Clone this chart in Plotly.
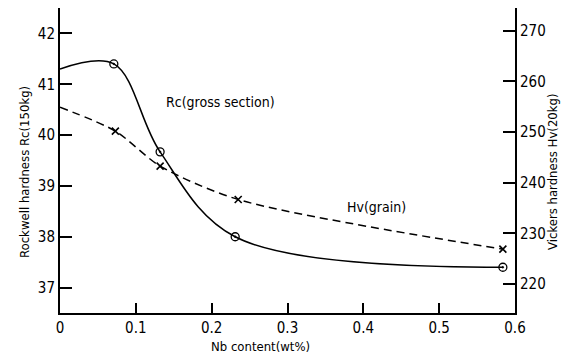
import plotly.graph_objects as go

# Data
nb_rc = [0.071, 0.132, 0.231, 0.584]
rc_vals = [41.4, 39.67, 38.0, 37.4]
rc_start = 41.3          # curve value at Nb = 0

nb_hv = [0.073, 0.132, 0.235, 0.584]
hv_vals = [250.2, 243.3, 236.7, 226.9]
hv_start = 254.9         # curve value at Nb = 0

x_ticks = [0, 0.1, 0.2, 0.3, 0.4, 0.5, 0.6]
x_ticktext = ["0", "0.1", "0.2", "0.3", "0.4", "0.5", "0.6"]
rc_ticks = [37, 38, 39, 40, 41, 42]
hv_ticks = [220, 230, 240, 250, 260, 270]

FONT = "DejaVu Sans Condensed, Liberation Sans Narrow, Arial Narrow, sans-serif"

L, R, T, B = 60, 50, 8, 44
PW, PH = 565 - L - R, 357 - T - B

fig = go.Figure()

# Rc curve (solid)
fig.add_trace(go.Scatter(
    x=[0] + nb_rc, y=[rc_start] + rc_vals, mode="lines",
    line=dict(color="black", width=1.5, shape="spline", smoothing=1.0),
    yaxis="y", showlegend=False, hoverinfo="skip"))
fig.add_trace(go.Scatter(
    x=nb_rc, y=rc_vals, mode="markers",
    marker=dict(symbol="circle-open-dot", size=8, color="black", line=dict(width=1.3)),
    yaxis="y", showlegend=False))

# Hv curve (dashed)
fig.add_trace(go.Scatter(
    x=[0] + nb_hv, y=[hv_start] + hv_vals, mode="lines",
    line=dict(color="black", width=1.5, dash="8px,5px", shape="spline", smoothing=0.8),
    yaxis="y2", showlegend=False, hoverinfo="skip"))
fig.add_trace(go.Scatter(
    x=nb_hv, y=hv_vals, mode="markers",
    marker=dict(symbol="x-thin", size=7, color="black", line=dict(width=1.6, color="black")),
    yaxis="y2", showlegend=False))

fig.add_annotation(x=0.211, y=40.65, xref="x", yref="y", text="Rc(gross section)",
                   showarrow=False, font=dict(family=FONT, size=14, color="black"))
fig.add_annotation(x=0.417, y=38.59, xref="x", yref="y", text="Hv(grain)",
                   showarrow=False, font=dict(family=FONT, size=14, color="black"))

# Axis titles placed as annotations for precise placement
ty = (357 - B - 172) / PH
fig.add_annotation(x=(24 - L) / PW, y=ty, xref="paper", yref="paper",
                   text="Rockwell hardness Rc(150kg)",
                   textangle=-90, showarrow=False, xanchor="center", yanchor="middle",
                   font=dict(family=FONT, size=13, color="black"))
fig.add_annotation(x=(552 - L) / PW, y=ty, xref="paper", yref="paper",
                   text="Vickers hardness Hv(20kg)",
                   textangle=-90, showarrow=False, xanchor="center", yanchor="middle",
                   font=dict(family=FONT, size=13, color="black"))
fig.add_annotation(x=(260 - L) / PW, y=-(346 - (357 - B)) / PH, xref="paper", yref="paper",
                   text="Nb content(wt%)", showarrow=False, xanchor="center", yanchor="middle",
                   font=dict(family=FONT, size=13, color="black"))

fig.update_layout(
    width=565, height=357,
    margin=dict(l=L, r=R, t=T, b=B, autoexpand=False),
    paper_bgcolor="white", plot_bgcolor="white",
    font=dict(family=FONT, size=15, color="black"),
    xaxis=dict(range=[0, 0.6], tickvals=x_ticks, ticktext=x_ticktext,
               ticks="inside", ticklen=10, tickwidth=1.5, tickcolor="black",
               showline=True, linecolor="black", linewidth=2, showgrid=False,
               zeroline=False, automargin=False),
    yaxis=dict(range=[36.5, 42.5], tickvals=rc_ticks,
               ticks="inside", ticklen=12, tickwidth=1.5, tickcolor="black",
               showline=True, linecolor="black", linewidth=2, showgrid=False,
               zeroline=False, automargin=False),
    yaxis2=dict(range=[214.3, 274.5], tickvals=hv_ticks, overlaying="y", side="right",
                ticks="inside", ticklen=12, tickwidth=1.5, tickcolor="black",
                showline=True, linecolor="black", linewidth=2, showgrid=False,
                zeroline=False, automargin=False),
)

fig.write_html("out.html", config={"displayModeBar": False},
               post_script="document.body.style.margin='0';")
